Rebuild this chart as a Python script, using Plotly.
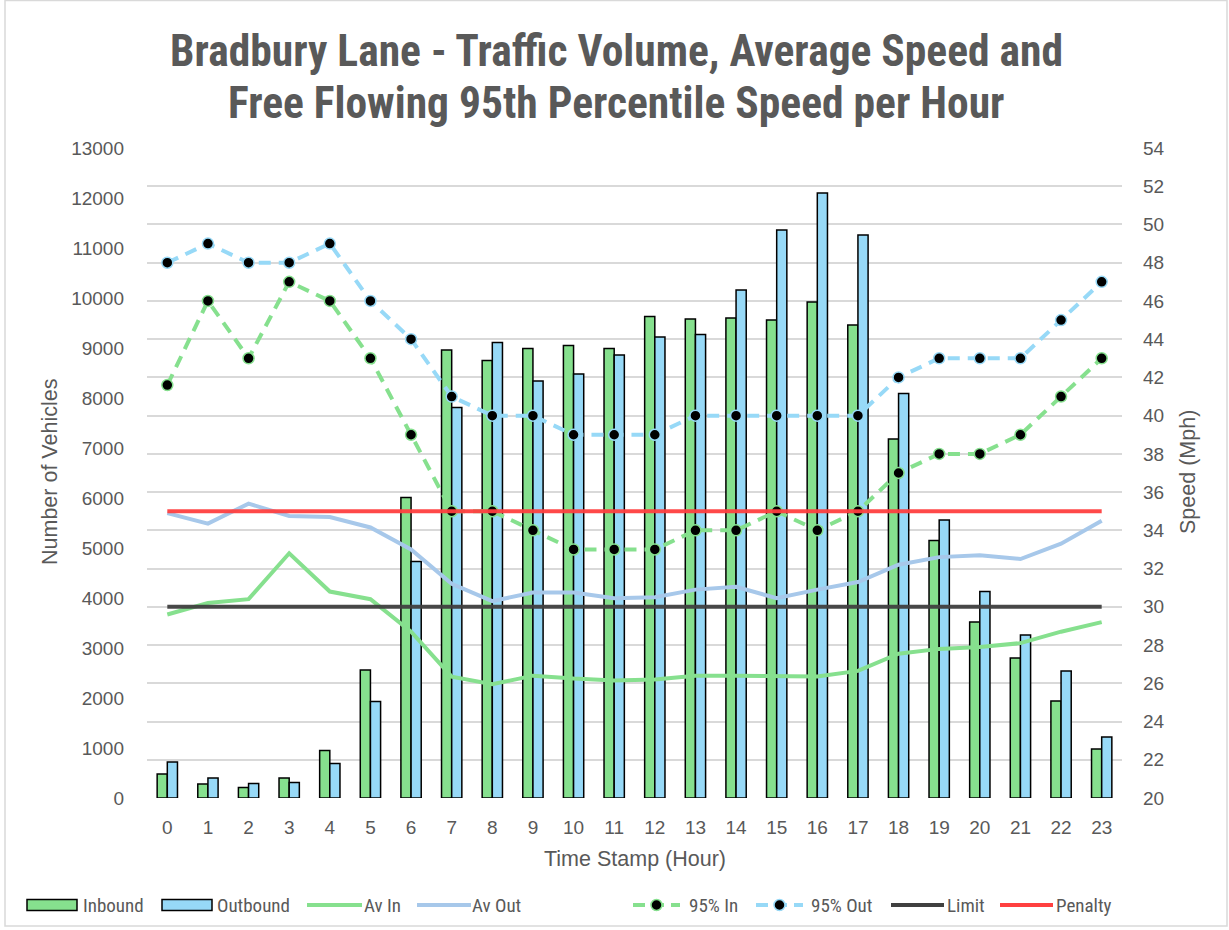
import plotly.graph_objects as go

hours = list(range(24))
inbound = [480, 280, 210, 400, 950, 2560, 6010, 8960, 8750, 8990, 9050, 8990,
           9630, 9580, 9600, 9560, 9920, 9460, 7180, 5150, 3520, 2800, 1940, 980]
outbound = [720, 400, 290, 310, 690, 1930, 4730, 7810, 9110, 8340, 8480, 8860,
            9220, 9270, 10160, 11360, 12100, 11260, 8090, 5560, 4130, 3260, 2540, 1220]
av_in = [29.6, 30.2, 30.4, 32.8, 30.8, 30.4, 28.7, 26.35, 25.95, 26.4, 26.25, 26.15,
         26.2, 26.4, 26.4, 26.4, 26.35, 26.65, 27.55, 27.8, 27.9, 28.1, 28.7, 29.2]
av_out = [34.9, 34.35, 35.4, 34.75, 34.7, 34.15, 33.0, 31.2, 30.3, 30.75, 30.75, 30.45,
          30.5, 30.9, 31.05, 30.45, 30.9, 31.3, 32.2, 32.6, 32.7, 32.5, 33.3, 34.5]
p95_in = [41.6, 46, 43, 47, 46, 43, 39, 35, 35, 34, 33, 33,
          33, 34, 34, 35, 34, 35, 37, 38, 38, 39, 41, 43]
p95_out = [48, 49, 48, 48, 49, 46, 44, 41, 40, 40, 39, 39,
           39, 40, 40, 40, 40, 40, 42, 43, 43, 43, 45, 47]
limit = [30] * 24
penalty = [35] * 24

left_ticks = list(range(0, 13001, 1000))
right_ticks = list(range(20, 55, 2))
title_lines = ["Bradbury Lane - Traffic Volume, Average Speed and",
               "Free Flowing 95th Percentile Speed per Hour"]

GREEN = "#86E08E"
BLUE = "#97D9F7"
AVBLUE = "#A7C8EA"
LIMITC = "#404040"
PENC = "#FF4040"
TXT = "#595959"
FONT = "Liberation Sans, Arial, sans-serif"
NARROW = "Liberation Sans Narrow, Roboto Condensed, Liberation Sans, sans-serif"
DASH = "12px,8px"

fig = go.Figure()
fig.add_trace(go.Bar(x=hours, y=inbound, name="Inbound",
                     marker=dict(color=GREEN, line=dict(color="#000000", width=1.5))))
fig.add_trace(go.Bar(x=hours, y=outbound, name="Outbound",
                     marker=dict(color=BLUE, line=dict(color="#000000", width=1.5))))
fig.add_trace(go.Scatter(x=hours, y=av_in, name="Av In", yaxis="y2", mode="lines",
                         line=dict(color=GREEN, width=4)))
fig.add_trace(go.Scatter(x=hours, y=av_out, name="Av Out", yaxis="y2", mode="lines",
                         line=dict(color=AVBLUE, width=4)))
fig.add_trace(go.Scatter(x=hours, y=p95_in, name="95% In", yaxis="y2", mode="lines+markers",
                         line=dict(color=GREEN, width=4, dash=DASH),
                         marker=dict(color="#000000", size=11, line=dict(color=GREEN, width=1.5))))
fig.add_trace(go.Scatter(x=hours, y=p95_out, name="95% Out", yaxis="y2", mode="lines+markers",
                         line=dict(color=BLUE, width=4, dash=DASH),
                         marker=dict(color="#000000", size=11, line=dict(color=BLUE, width=1.5))))
fig.add_trace(go.Scatter(x=hours, y=limit, name="Limit", yaxis="y2", mode="lines",
                         line=dict(color=LIMITC, width=4), opacity=0.95))
fig.add_trace(go.Scatter(x=hours, y=penalty, name="Penalty", yaxis="y2", mode="lines",
                         line=dict(color=PENC, width=4), opacity=0.95))

L, R, T, B = 147, 107, 148, 132
W, H = 1229, 930
pw, ph = W - L - R, H - T - B


def px_x(p):
    return (p - L) / pw


def px_y(p):
    return (H - B - p) / ph


shapes = [dict(type="rect", xref="paper", yref="paper",
               x0=px_x(5), x1=px_x(1227), y0=px_y(926), y1=px_y(0.5),
               line=dict(color="#D9D9D9", width=1.5), fillcolor="rgba(0,0,0,0)", layer="below")]
annotations = []

# title
for txt, cy in zip(title_lines, [52, 103]):
    annotations.append(dict(text="<b>" + txt + "</b>", xref="paper", yref="paper",
                            x=px_x(616), y=px_y(cy), xanchor="center", yanchor="middle",
                            showarrow=False, font=dict(family=NARROW, size=43.5, color=TXT)))

# axis titles
annotations += [
    dict(text="Number of Vehicles", xref="paper", yref="paper", x=px_x(50), y=px_y(472),
         textangle=-90, showarrow=False, xanchor="center", yanchor="middle",
         font=dict(size=21.5, color=TXT)),
    dict(text="Speed (Mph)", xref="paper", yref="paper", x=px_x(1188), y=px_y(472),
         textangle=-90, showarrow=False, xanchor="center", yanchor="middle",
         font=dict(size=21.5, color=TXT)),
    dict(text="Time Stamp (Hour)", xref="paper", yref="paper", x=0.5, y=px_y(859),
         showarrow=False, xanchor="center", yanchor="middle",
         font=dict(size=21.5, color=TXT)),
]

# legend (drawn manually)
LY = 905
legend_items = [
    ("bar", GREEN, 27, 77, 81, "Inbound"),
    ("bar", BLUE, 162, 212, 215, "Outbound"),
    ("line", GREEN, 307, 362, 362, "Av In"),
    ("line", AVBLUE, 417, 471, 470, "Av Out"),
    ("dash", GREEN, 633, 680, 687, "95% In"),
    ("dash", BLUE, 756, 803, 809, "95% Out"),
    ("line", LIMITC, 891, 944, 945, "Limit"),
    ("line", PENC, 1000, 1053, 1054, "Penalty"),
]
for kind, col, a, b, tx, label in legend_items:
    if kind == "bar":
        shapes.append(dict(type="rect", xref="paper", yref="paper",
                           x0=px_x(a), x1=px_x(b), y0=px_y(LY + 5.5), y1=px_y(LY - 5.5),
                           fillcolor=col, line=dict(color="#000000", width=1.5)))
    elif kind == "line":
        shapes.append(dict(type="line", xref="paper", yref="paper",
                           x0=px_x(a), x1=px_x(b), y0=px_y(LY), y1=px_y(LY),
                           line=dict(color=col, width=4)))
    else:
        shapes.append(dict(type="line", xref="paper", yref="paper",
                           x0=px_x(a), x1=px_x(b), y0=px_y(LY), y1=px_y(LY),
                           line=dict(color=col, width=4, dash="12px,7px")))
        cx = (a + b) / 2
        shapes.append(dict(type="circle", xref="paper", yref="paper",
                           x0=px_x(cx - 5.5), x1=px_x(cx + 5.5),
                           y0=px_y(LY + 5.5), y1=px_y(LY - 5.5),
                           fillcolor="#000000", line=dict(color=col, width=1.5)))
    annotations.append(dict(text=label, xref="paper", yref="paper", x=px_x(tx), y=px_y(LY),
                            xanchor="left", yanchor="middle", showarrow=False,
                            font=dict(family=NARROW, size=19, color=TXT)))

fig.update_layout(
    template="none",
    width=W, height=H,
    margin=dict(l=L, r=R, t=T, b=B, autoexpand=False),
    paper_bgcolor="white", plot_bgcolor="white",
    font=dict(family=FONT, color=TXT, size=19),
    barmode="group", bargap=0.5, bargroupgap=0,
    showlegend=False,
    xaxis=dict(range=[-0.5, 23.5], tickvals=hours, ticktext=[str(h) for h in hours],
               showgrid=False, zeroline=False, showline=False, ticks="", automargin=False,
               ticklabelstandoff=16, tickfont=dict(size=19, color=TXT)),
    yaxis=dict(range=[0, 13000], tickvals=left_ticks, ticktext=[str(v) for v in left_ticks],
               showgrid=False, zeroline=False, showline=False, ticks="", automargin=False,
               ticklabelstandoff=22, tickfont=dict(size=19, color=TXT)),
    yaxis2=dict(range=[20, 54], tickvals=right_ticks, overlaying="y", side="right",
                showgrid=True, gridcolor="#D9D9D9", gridwidth=1.5, zeroline=False,
                showline=False, ticks="", ticklabelstandoff=20, automargin=False,
                tickfont=dict(size=19, color=TXT)),
    shapes=shapes,
    annotations=annotations,
)

fig.write_html("out.html", config={"displayModeBar": False},
               post_script="document.body.style.margin='0px';")
